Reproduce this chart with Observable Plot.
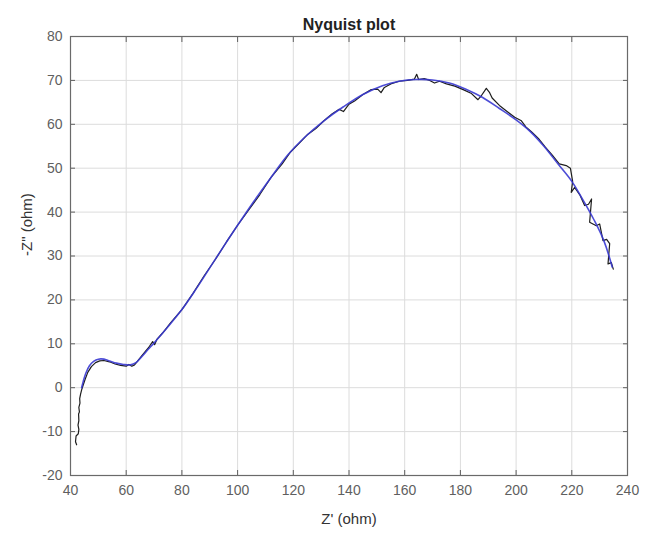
<!DOCTYPE html>
<html>
<head>
<meta charset="utf-8">
<script src="https://cdn.jsdelivr.net/npm/d3@7"></script>
<script src="https://cdn.jsdelivr.net/npm/@observablehq/plot@0.6"></script>
<style>
  html, body { margin: 0; padding: 0; background: #fff; }
  #chart svg { display: block; }
</style>
</head>
<body>
<div id="chart"></div>
<script>
// Measured data (black)
const dataZre = [42.2, 41.8, 42.0, 42.8, 43.0, 42.7, 43.0, 42.9, 43.2, 43.0,
  43.4, 43.3, 43.6, 44.0, 44.5, 45.2, 46.2, 47.5, 49.0, 50.5,
  52.0, 54.0, 56.0, 58.0, 60.0, 61.0, 62.0, 63.0, 64.0, 66.0,
  68.0, 69.5, 70.2, 71.0, 73.0, 76.0, 80.0, 84.0, 88.0, 92.0,
  96.0, 100.0, 104.0, 108.0, 112.0, 116.0, 119.0, 122.0, 125.0, 128.0,
  131.0, 134.0, 136.5, 138.0, 140.0, 142.0, 145.0, 148.0, 150.3, 151.5,
  152.7, 155.0, 158.0, 161.0, 163.5, 164.3, 165.0, 167.0, 169.0, 170.7,
  172.5, 175.0, 178.0, 181.0, 184.0, 186.3, 187.5, 189.3, 190.5, 191.4,
  194.0, 197.0, 199.5, 201.9, 203.5, 205.5, 208.0, 210.5, 213.0, 215.5,
  218.0, 219.5, 220.3, 219.8, 221.0, 223.0, 224.6, 226.0, 227.1, 226.4,
  228.8, 230.0, 231.2, 232.5, 233.6, 233.0, 234.2, 234.9];
const dataZim = [-13.0, -12.3, -11.0, -10.5, -9.5, -8.5, -7.5, -6.0, -5.5, -4.5,
  -3.5, -2.5, -1.5, -0.5, 0.5, 1.8, 3.5, 4.8, 5.7, 6.1,
  6.2, 5.9, 5.4, 5.1, 4.9, 5.3, 4.9, 5.2, 6.0, 7.6,
  9.1, 10.5, 9.8, 11.0, 12.4, 14.8, 17.8, 21.5, 25.5, 29.2,
  33.2, 37.0, 40.5, 44.0, 47.9, 51.0, 53.7, 55.6, 57.6, 59.0,
  60.8, 62.4, 63.4, 62.9, 64.6, 65.3, 66.8, 67.9, 68.0, 67.2,
  68.4, 69.2, 69.8, 70.0, 70.3, 71.4, 70.2, 70.4, 70.0, 69.4,
  69.8, 69.2, 68.7, 67.9, 67.0, 65.6, 66.5, 68.2, 67.2, 66.0,
  64.3, 62.8, 61.6, 60.8, 59.4, 58.3, 56.8, 54.8, 53.0, 51.0,
  50.6, 50.0, 47.0, 44.5, 45.6, 43.8, 41.5, 41.8, 43.0, 37.7,
  36.9, 37.3, 33.5, 33.8, 32.8, 28.2, 28.5, 27.0];

// Fitted model (blue)
const fitZre = [44.0, 44.6, 45.5, 46.8, 48.3, 50.0, 52.0, 54.0, 56.5, 59.0,
  61.5, 63.5, 65.5, 68.0, 70.0, 75.0, 80.0, 85.0, 90.0, 95.0,
  100.0, 106.0, 112.0, 118.0, 124.0, 131.0, 138.0, 145.0, 152.0, 158.0,
  164.0, 170.0, 176.0, 182.0, 188.0, 194.0, 200.0, 205.0, 210.0, 215.0,
  220.0, 224.0, 228.0, 231.5, 234.5];
const fitZim = [0.0, 1.5, 3.3, 5.0, 6.0, 6.5, 6.5, 6.1, 5.6, 5.3,
  5.2, 5.7, 7.0, 8.8, 10.2, 13.9, 17.8, 22.4, 27.3, 32.2,
  37.0, 42.6, 47.9, 53.0, 57.0, 60.8, 64.0, 66.8, 68.8, 69.8,
  70.2, 70.1, 69.4, 68.0, 66.1, 63.6, 61.0, 58.4, 55.0, 51.0,
  47.0, 42.8, 38.2, 33.5, 27.5];

const xTicks = [40, 60, 80, 100, 120, 140, 160, 180, 200, 220, 240];
const yTicks = [-20, -10, 0, 10, 20, 30, 40, 50, 60, 70, 80];
const titleText = ["Nyquist plot"];
const xLabel = "Z' (ohm)";
const yLabel = "-Z\" (ohm)";

const measured = dataZre.map((x, i) => ({x, y: dataZim[i]}));
const fitted = fitZre.map((x, i) => ({x, y: fitZim[i]}));

const tickColor = "#5f5f5f";
const font = "Liberation Sans, Arial, Helvetica, sans-serif";
const fmt = d => String(d);

const chart = Plot.plot({
  width: 659,
  height: 534,
  marginLeft: 70,
  marginRight: 32,
  marginTop: 36,
  marginBottom: 59,
  style: {fontFamily: font, fontSize: "14px", color: tickColor, background: "#fff"},
  x: {domain: [40, 240], label: null},
  y: {domain: [-20, 80], label: null},
  marks: [
    Plot.gridX(xTicks, {stroke: "#dcdcdc", strokeOpacity: 1, strokeWidth: 1}),
    Plot.gridY(yTicks, {stroke: "#dcdcdc", strokeOpacity: 1, strokeWidth: 1}),
    Plot.axisX(xTicks, {anchor: "bottom", tickSize: -5, tickPadding: 15, tickFormat: fmt, stroke: tickColor, fill: tickColor, label: null, fontSize: 14}),
    Plot.axisX(xTicks, {anchor: "top", tickSize: -5, tickFormat: () => "", stroke: tickColor, label: null}),
    Plot.axisY(yTicks, {anchor: "left", tickSize: -5, tickPadding: 13, tickFormat: fmt, stroke: tickColor, fill: tickColor, label: null, fontSize: 14}),
    Plot.axisY(yTicks, {anchor: "right", tickSize: -5, tickFormat: () => "", stroke: tickColor, label: null}),
    Plot.line(measured, {x: "x", y: "y", stroke: "#1e1e1e", strokeWidth: 1.2}),
    Plot.line(fitted, {x: "x", y: "y", stroke: "#3a3ad2", strokeWidth: 1.6, strokeOpacity: 0.9, curve: "catmull-rom"}),
    Plot.frame({stroke: "#6a6a6a", strokeWidth: 1.2}),
    Plot.text(titleText, {frameAnchor: "top", dy: -18, fontWeight: "bold", fontSize: 16, fill: "#222"}),
    Plot.text([xLabel], {frameAnchor: "bottom", dy: 48, fontSize: 15, fill: "#333"}),
    Plot.text([yLabel], {frameAnchor: "left", dx: -43, rotate: -90, fontSize: 15, fill: "#333"})
  ]
});
document.getElementById("chart").appendChild(chart);
</script>
</body>
</html>
